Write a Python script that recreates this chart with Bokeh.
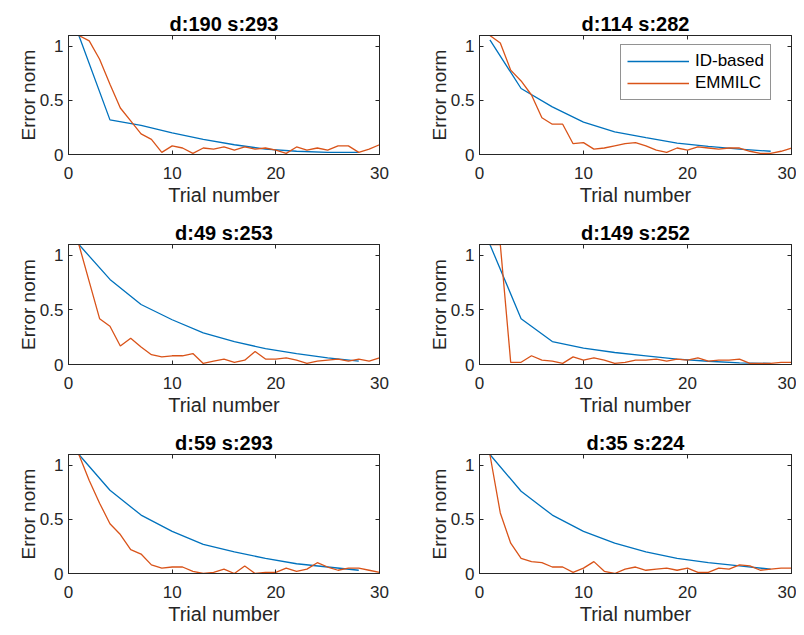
from bokeh.plotting import figure
from bokeh.layouts import gridplot
from bokeh.models import FixedTicker, LinearAxis, Range1d, Legend, LegendItem
from bokeh.embed import file_html
from bokeh.resources import INLINE

# ---------------- data ----------------
trials = list(range(1, 31))
id_trials = [1, 4, 7, 10, 13, 16, 19, 22, 25, 28]
titles = ["d:190 s:293", "d:114 s:282", "d:49 s:253",
          "d:149 s:252", "d:59 s:293", "d:35 s:224"]
x_ticks = [0, 10, 20, 30]
y_ticks = [0, 0.5, 1]
y_tick_labels = {0: "0", 0.5: "0.5", 1: "1"}

id_1 = [1.1, 0.32, 0.27, 0.20, 0.14, 0.09, 0.05, 0.03, 0.02, 0.02]
em_1 = [1.1, 1.05, 0.88, 0.65, 0.43, 0.31, 0.19, 0.14, 0.02, 0.08,
        0.06, 0.01, 0.06, 0.05, 0.07, 0.04, 0.07, 0.05, 0.06, 0.04,
        0.01, 0.07, 0.04, 0.06, 0.04, 0.08, 0.08, 0.02, 0.05, 0.09]

id_2 = [1.06, 0.61, 0.44, 0.30, 0.21, 0.155, 0.105, 0.075, 0.05, 0.03]
em_2 = [1.1, 1.03, 0.78, 0.68, 0.55, 0.34, 0.28, 0.28, 0.10, 0.11,
        0.05, 0.06, 0.08, 0.10, 0.11, 0.08, 0.04, 0.02, 0.06, 0.04,
        0.07, 0.06, 0.05, 0.06, 0.06, 0.03, 0.01, 0.01, 0.03, 0.06]

id_3 = [1.1, 0.78, 0.55, 0.41, 0.29, 0.21, 0.145, 0.10, 0.06, 0.03]
em_3 = [1.1, 0.76, 0.42, 0.35, 0.17, 0.24, 0.16, 0.09, 0.07, 0.08,
        0.08, 0.10, 0.01, 0.03, 0.05, 0.02, 0.04, 0.12, 0.05, 0.05,
        0.06, 0.04, 0.01, 0.03, 0.04, 0.05, 0.03, 0.05, 0.03, 0.06]

id_4 = [1.1, 0.42, 0.21, 0.15, 0.11, 0.08, 0.05, 0.03, 0.015, 0.01]
em_4 = [1.1, 1.1, 0.02, 0.02, 0.08, 0.04, 0.03, 0.01, 0.07, 0.04,
        0.06, 0.04, 0.01, 0.02, 0.04, 0.04, 0.05, 0.03, 0.05, 0.04,
        0.06, 0.03, 0.04, 0.04, 0.05, 0.01, 0.01, 0.01, 0.02, 0.02]

id_5 = [1.1, 0.77, 0.54, 0.39, 0.27, 0.20, 0.14, 0.09, 0.06, 0.03]
em_5 = [1.1, 0.86, 0.65, 0.46, 0.36, 0.22, 0.18, 0.08, 0.05, 0.06,
        0.06, 0.02, 0.0, 0.01, 0.04, 0.0, 0.07, 0.0, 0.01, 0.01,
        0.05, 0.02, 0.04, 0.10, 0.06, 0.03, 0.05, 0.05, 0.03, 0.01]

id_6 = [1.1, 0.76, 0.54, 0.39, 0.28, 0.20, 0.14, 0.10, 0.07, 0.04]
em_6 = [1.1, 0.56, 0.28, 0.14, 0.11, 0.10, 0.06, 0.06, 0.01, 0.05,
        0.11, 0.02, 0.0, 0.04, 0.06, 0.03, 0.04, 0.05, 0.03, 0.05,
        0.01, 0.01, 0.05, 0.04, 0.08, 0.07, 0.03, 0.04, 0.05, 0.05]

id_series = [id_1, id_2, id_3, id_4, id_5, id_6]
em_series = [em_1, em_2, em_3, em_4, em_5, em_6]

# ---------------- style ----------------
FONT = "Liberation Sans"
AX = "#262626"
BLUE = "#0072BD"
ORANGE = "#D95319"

col_geom = [dict(left=68, fw=311, right=27), dict(left=73, fw=312, right=5)]
row_geom = [dict(top=35, fh=119, bottom=63), dict(top=27, fh=120, bottom=62),
            dict(top=28, fh=119, bottom=54)]


def style_axis(ax, labels=True):
    ax.major_tick_in = 4
    ax.major_tick_out = 0
    ax.minor_tick_line_color = None
    ax.axis_line_color = AX
    ax.major_tick_line_color = AX
    if labels:
        ax.major_label_text_font = FONT
        ax.major_label_text_font_size = "17px"
        ax.major_label_text_color = AX
        ax.axis_label_text_font = FONT
        ax.axis_label_text_font_size = "20px"
        ax.axis_label_text_font_style = "normal"
        ax.axis_label_text_color = AX
    else:
        ax.major_label_text_color = None
        ax.major_label_text_font_size = "1px"
        ax.major_label_standoff = 0


def make(i):
    r, c = divmod(i, 2)
    cg, rg = col_geom[c], row_geom[r]
    p = figure(frame_width=cg["fw"], frame_height=rg["fh"],
               min_border_left=cg["left"], min_border_right=cg["right"],
               min_border_top=rg["top"], min_border_bottom=rg["bottom"],
               x_range=Range1d(0, 30), y_range=Range1d(0, 1.1),
               output_backend="svg", toolbar_location=None, title=titles[i])
    p.title.align = "center"
    p.title.text_font = FONT
    p.title.text_font_size = "20px"
    p.title.text_font_style = "bold"
    p.title.text_color = "#000000"
    p.title.standoff = 2
    p.grid.visible = False
    p.outline_line_color = AX
    p.outline_line_alpha = 1
    p.background_fill_color = "white"
    p.border_fill_color = "white"

    p.xaxis.ticker = FixedTicker(ticks=x_ticks)
    p.yaxis.ticker = FixedTicker(ticks=y_ticks)
    p.yaxis.major_label_overrides = y_tick_labels
    p.xaxis.axis_label = "Trial number"
    p.yaxis.axis_label = "Error norm"
    for ax in p.xaxis + p.yaxis:
        style_axis(ax)
    p.yaxis.axis_label_text_font_size = "19px"
    p.xaxis.major_label_standoff = 12
    p.xaxis.axis_label_standoff = 2
    p.yaxis.major_label_standoff = 5
    p.yaxis.axis_label_standoff = -2

    top = LinearAxis(ticker=FixedTicker(ticks=x_ticks))
    right = LinearAxis(ticker=FixedTicker(ticks=y_ticks))
    style_axis(top, labels=False)
    style_axis(right, labels=False)
    p.add_layout(top, "above")
    p.add_layout(right, "right")

    rb = p.line(id_trials, id_series[i], color=BLUE, line_width=1.3)
    ro = p.line(trials, em_series[i], color=ORANGE, line_width=1.3)

    if i == 1:
        lg = Legend(items=[LegendItem(label="ID-based", renderers=[rb]),
                           LegendItem(label="EMMILC", renderers=[ro])],
                    location=(141, 54))
        lg.border_line_color = AX
        lg.border_line_width = 1
        lg.background_fill_color = "white"
        lg.background_fill_alpha = 1
        lg.label_text_font = FONT
        lg.label_text_font_size = "17px"
        lg.label_text_color = "#000000"
        lg.glyph_width = 62
        lg.glyph_height = 20
        lg.label_height = 20
        lg.spacing = 2
        lg.padding = 6
        lg.margin = 0
        lg.label_standoff = 6
        p.add_layout(lg)
    return p


plots = [make(i) for i in range(6)]
grid = gridplot([[plots[0], plots[1]], [plots[2], plots[3]], [plots[4], plots[5]]],
                toolbar_location=None)

open("out.html", "w").write(file_html(grid, INLINE))
